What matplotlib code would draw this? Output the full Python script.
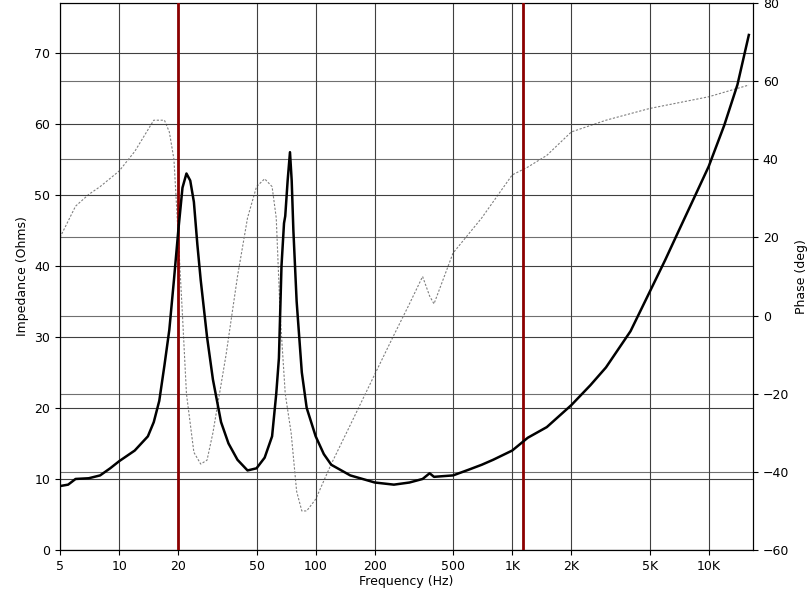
import matplotlib
matplotlib.use("Agg")
import matplotlib.pyplot as plt
import numpy as np

imp_f = [5,5.5,6,7,8,9,10,12,14,15,16,17,18,19,20,21,22,23,24,25,26,28,30,33,36,40,45,50,55,60,63,65,67,69,70,72,74,75.5,77,80,85,90,100,110,120,150,200,250,300,350,380,400,500,600,700,800,1000,1200,1500,2000,2500,3000,4000,5000,6000,7000,8500,10000,12000,14000,16000]
imp_z = [9,9.2,10,10.1,10.5,11.5,12.5,14,16,18,21,26,31,38,45,51,53,52,49,43,38,30,24,18,15,12.7,11.2,11.5,13,16,22,27,40,46,47,52,56,52,45,35,25,20,16,13.5,12,10.5,9.5,9.2,9.5,10,10.8,10.3,10.5,11.3,12,12.7,14,15.8,17.3,20.4,23.2,25.7,30.8,36.3,40.8,44.8,49.8,54,59.8,65.5,72.5]
ph_f = [5,6,7,8,10,12,15,17,18,19,20,21,22,24,26,28,30,35,40,45,50,55,60,63,66,70,75,80,85,90,100,120,150,200,250,300,350,380,400,500,700,1000,1200,1500,2000,3000,5000,10000,16000]
ph_d = [20,28,31,33,37,42,50,50,47,40,20,0,-20,-35,-38,-37,-30,-10,10,25,33,35,33,25,0,-20,-30,-45,-50,-50,-47,-38,-28,-15,-5,3,10,5,3,16,25,36,38,41,47,50,53,56,59]
markers = [20, 1140]
xticks = [5,10,20,50,100,200,500,1000,2000,5000,10000]
xlabels = ['5','10','20','50','100','200','500','1K','2K','5K','10K']

fig = plt.figure(figsize=(8.09,5.93), dpi=100, facecolor='white')
ax = fig.add_axes([60/809, 43/593, 693/809, 547/593])
ax2 = ax.twinx()
ax.set_xscale('log')
ax.set_xlim(5, 16800)
ax.set_ylim(0, 77)
ax2.set_ylim(-60, 80)
ax2.set_facecolor('#c0c0c0')
for y in np.arange(-60, 81, 20):
    ax2.axhline(y, color='#707070', lw=0.8, zorder=0)
ax.grid(True, which='major', axis='both', color='#404040', lw=0.8)
ax.set_axisbelow(True)
ax.set_xticks(xticks)
ax.set_xticklabels(xlabels)
ax.xaxis.set_minor_locator(matplotlib.ticker.NullLocator())
ax.set_yticks(range(0, 71, 10))
ax2.set_yticks(range(-60, 81, 20))
ax2.plot(ph_f, ph_d, color='#808080', lw=0.8, ls=(0,(2,1.5)))
ax.plot(imp_f, imp_z, color='black', lw=1.8, zorder=5)
for m in markers:
    ax.axvline(m, color='#8b0000', lw=2, zorder=4)
ax.set_zorder(ax2.get_zorder()+1); ax.patch.set_visible(False)
for a in (ax, ax2):
    a.tick_params(labelsize=9, direction='out')
ax.set_xlabel('Frequency (Hz)', fontsize=9, labelpad=2)
ax.set_ylabel('Impedance (Ohms)', fontsize=9)
ax2.set_ylabel('Phase (deg)', fontsize=9)
fig.savefig('out.png', dpi=100)
